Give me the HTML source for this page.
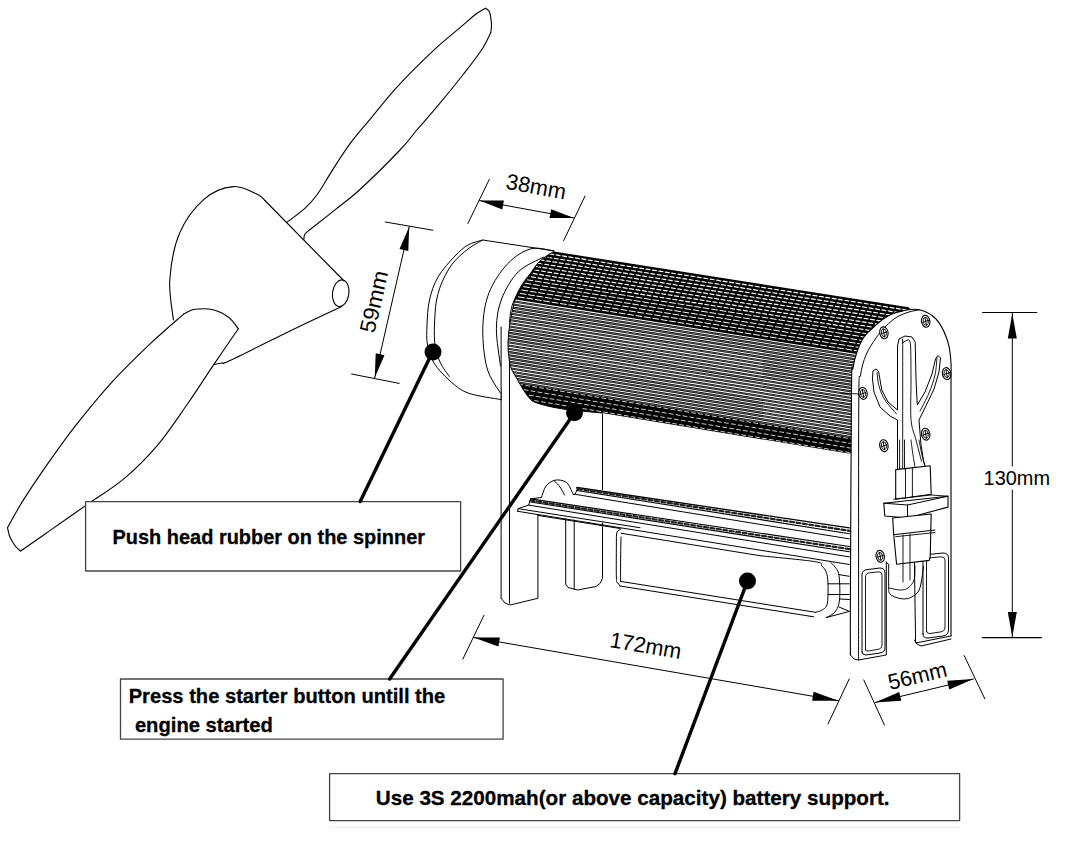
<!DOCTYPE html><html><head><meta charset="utf-8"><style>html,body{margin:0;padding:0;background:#fff;width:1066px;height:861px;overflow:hidden}</style></head><body><svg width="1066" height="861" viewBox="0 0 1066 861" style="display:block;font-family:'Liberation Sans',sans-serif" stroke-linejoin="round" stroke-linecap="round">
<rect width="1066" height="861" fill="#fff"/>
<path d="M286.8 222.4 C289.9 220.0 300.0 212.8 305.1 208.1 C310.2 203.4 312.7 200.8 317.2 194.5 C321.7 188.2 326.8 179.0 332.3 170.4 C337.8 161.8 344.1 151.7 350.4 143.2 C356.7 134.7 362.2 128.7 370.0 119.3 C377.8 109.9 386.4 98.5 397.2 86.8 C408.0 75.1 424.3 59.0 434.9 49.1 C445.5 39.2 453.8 33.0 460.6 27.2 C467.4 21.4 471.6 17.4 475.7 14.3 C479.8 11.2 483.9 9.3 485.5 8.3" fill="none" stroke="#000" stroke-width="1.10" />
<path d="M485.5 8.3 C486.0 8.7 487.8 9.6 488.5 10.5 C489.2 11.4 489.5 11.3 490.0 13.6 C490.5 15.9 491.4 21.1 491.5 24.2 C491.6 27.3 490.9 31.1 490.8 32.5" fill="none" stroke="#000" stroke-width="1.10" />
<path d="M490.8 32.5 C489.3 35.4 486.2 42.9 481.7 49.8 C477.2 56.7 470.9 64.7 463.6 74.0 C456.3 83.3 445.7 96.4 437.9 105.7 C430.1 115.0 423.1 122.6 416.8 130.0 C410.5 137.4 409.6 140.0 400.0 150.0 C390.4 160.0 370.2 180.1 359.4 190.0 C348.6 199.9 343.2 203.3 335.3 209.6 C327.4 215.9 317.1 223.9 312.0 228.0 C306.9 232.1 306.4 232.1 305.0 234.0 C303.6 235.9 304.1 238.6 303.9 239.5" fill="none" stroke="#000" stroke-width="1.10" />
<path d="M173.4 320.0 C172.8 313.3 168.8 294.2 169.8 279.8 C170.8 265.4 173.8 246.8 179.5 233.4 C185.2 220.0 195.0 207.1 203.9 199.3 C212.8 191.5 224.2 187.4 233.2 186.6 C242.1 185.8 252.3 192.1 257.6 194.4 C262.9 196.7 263.7 199.5 264.9 200.5" fill="none" stroke="#000" stroke-width="1.10" />
<line x1="264.9" y1="200.5" x2="344.1" y2="281.0" stroke="#000" stroke-width="1.10"/>
<ellipse cx="340.7" cy="293.2" rx="8.2" ry="13.4" fill="none" stroke="#000" stroke-width="1.10" transform="rotate(8 340.7 293.2)"/>
<path d="M341.7 306.6 C333.1 310.7 308.5 322.1 290.0 331.0 C271.5 339.9 242.0 354.9 230.7 360.2 C219.4 365.5 224.8 362.3 222.0 363.0 C219.2 363.7 215.2 364.2 213.9 364.4" fill="none" stroke="#000" stroke-width="1.10" />
<path d="M183.9 313.8 C178.3 318.8 162.0 332.6 150.1 343.8 C138.2 355.1 125.1 367.6 112.6 381.3 C100.1 395.1 86.3 411.9 75.0 426.3 C63.7 440.7 53.8 455.1 45.0 467.6 C36.2 480.1 28.8 491.4 22.5 501.4 C16.2 511.4 10.0 523.3 7.5 527.7" fill="none" stroke="#000" stroke-width="1.10" />
<path d="M7.5 527.7 C7.8 529.1 8.6 533.5 9.5 536.0 C10.4 538.5 11.8 540.7 13.1 542.7 C14.3 544.7 15.8 546.6 17.0 548.0 C18.2 549.4 20.0 550.5 20.6 551.0" fill="none" stroke="#000" stroke-width="1.10" />
<path d="M20.6 551.0 C25.3 547.7 37.9 539.0 48.8 531.4 C59.7 523.8 73.8 513.9 86.3 505.1 C98.8 496.4 111.9 488.9 123.8 478.9 C135.7 468.9 147.0 457.6 157.6 445.1 C168.2 432.6 178.2 417.2 187.6 403.8 C197.0 390.4 205.4 376.9 213.9 364.4 C222.4 351.9 234.2 334.7 238.3 328.8" fill="none" stroke="#000" stroke-width="1.10" />
<path d="M183.9 313.8 C185.8 313.1 190.0 309.9 195.0 309.3 C200.0 308.7 208.2 308.6 213.9 310.0 C219.6 311.4 224.8 314.4 228.9 317.5 C233.0 320.6 236.7 326.9 238.3 328.8" fill="none" stroke="#000" stroke-width="1.10" />
<line x1="385.3" y1="222.0" x2="432.8" y2="230.2" stroke="#000" stroke-width="1.00"/>
<line x1="351.6" y1="374.0" x2="399.2" y2="383.4" stroke="#000" stroke-width="1.00"/>
<line x1="409.2" y1="226.7" x2="374.8" y2="377.6" stroke="#000" stroke-width="1.00"/>
<path d="M409.2 226.7 L399.5 249.1 L408.3 251.1 Z" fill="#000"/>
<path d="M374.8 377.6 L384.5 355.2 L375.7 353.2 Z" fill="#000"/>
<text x="0" y="0" transform="translate(373.6 301.6) rotate(-77.2)" text-anchor="middle" dy="7.9" font-size="22.0" textLength="63.0" lengthAdjust="spacingAndGlyphs">59mm</text>
<line x1="489.3" y1="179.4" x2="467.9" y2="223.5" stroke="#000" stroke-width="1.00"/>
<line x1="585.0" y1="196.1" x2="563.7" y2="240.6" stroke="#000" stroke-width="1.00"/>
<line x1="479.5" y1="200.6" x2="574.0" y2="218.0" stroke="#000" stroke-width="1.00"/>
<path d="M479.5 200.6 L502.3 209.4 L503.9 200.5 Z" fill="#000"/>
<path d="M574.0 218.0 L551.2 209.2 L549.6 218.1 Z" fill="#000"/>
<text x="0" y="0" transform="translate(536.2 186.3) rotate(10.4)" text-anchor="middle" dy="7.9" font-size="22.0" textLength="60.5" lengthAdjust="spacingAndGlyphs">38mm</text>
<line x1="982.6" y1="312.5" x2="1036.7" y2="312.5" stroke="#000" stroke-width="1.20"/>
<line x1="982.3" y1="637.6" x2="1041.5" y2="637.6" stroke="#000" stroke-width="1.20"/>
<line x1="1012.3" y1="313.0" x2="1012.3" y2="466.0" stroke="#000" stroke-width="1.00"/>
<line x1="1012.3" y1="490.0" x2="1012.3" y2="637.0" stroke="#000" stroke-width="1.00"/>
<path d="M1012.3 313.4 L1007.8 338.4 L1016.8 338.4 Z" fill="#000"/>
<path d="M1012.3 637.0 L1016.8 612.0 L1007.8 612.0 Z" fill="#000"/>
<text x="0" y="0" transform="translate(1016.8 477.8) rotate(0.0)" text-anchor="middle" dy="7.6" font-size="21.0" textLength="66.5" lengthAdjust="spacingAndGlyphs">130mm</text>
<line x1="484.0" y1="615.2" x2="462.9" y2="659.0" stroke="#000" stroke-width="1.00"/>
<line x1="849.2" y1="679.0" x2="828.0" y2="724.0" stroke="#000" stroke-width="1.00"/>
<line x1="473.5" y1="637.5" x2="838.5" y2="700.7" stroke="#000" stroke-width="1.00"/>
<path d="M473.5 637.5 L498.4 646.4 L499.9 637.5 Z" fill="#000"/>
<path d="M838.5 700.7 L813.6 691.8 L812.1 700.7 Z" fill="#000"/>
<text x="0" y="0" transform="translate(645.8 645.2) rotate(9.7)" text-anchor="middle" dy="7.9" font-size="22.0" textLength="72.0" lengthAdjust="spacingAndGlyphs">172mm</text>
<line x1="863.8" y1="680.0" x2="884.4" y2="725.0" stroke="#000" stroke-width="1.00"/>
<line x1="964.2" y1="655.6" x2="984.8" y2="698.8" stroke="#000" stroke-width="1.00"/>
<line x1="875.0" y1="702.5" x2="973.5" y2="679.0" stroke="#000" stroke-width="1.00"/>
<path d="M875.0 702.5 L901.3 700.8 L899.2 692.1 Z" fill="#000"/>
<path d="M973.5 679.0 L947.2 680.7 L949.3 689.4 Z" fill="#000"/>
<text x="0" y="0" transform="translate(917.3 675.3) rotate(-13.4)" text-anchor="middle" dy="7.9" font-size="22.0" textLength="60.0" lengthAdjust="spacingAndGlyphs">56mm</text>
<path d="M616.4 540.0 C616.5 538.7 616.2 533.8 617.0 532.0 C617.8 530.2 620.3 529.6 621.0 529.1" fill="none" stroke="#000" stroke-width="1.00" />
<line x1="621.4" y1="533.3" x2="760.0" y2="555.7" stroke="#000" stroke-width="1.00" />
<path d="M760.0 555.7 C769.1 556.7 804.3 559.9 814.6 561.6 C824.9 563.3 819.9 563.5 822.0 566.0 C824.1 568.5 826.5 570.5 827.4 576.7 C828.3 582.9 828.3 597.5 827.4 603.0 C826.5 608.5 824.0 608.5 822.0 610.0 C820.0 611.5 816.6 611.9 815.5 612.3" fill="none" stroke="#000" stroke-width="1.00" />
<line x1="815.5" y1="612.3" x2="620.6" y2="581.4" stroke="#000" stroke-width="1.00" />
<line x1="813.7" y1="616.8" x2="620.0" y2="586.0" stroke="#000" stroke-width="1.00" />
<path d="M616.4 540.0 C616.4 546.3 616.1 570.8 616.4 578.0 C616.7 585.2 617.4 581.7 618.0 583.0 C618.6 584.3 619.7 585.5 620.0 586.0" fill="none" stroke="#000" stroke-width="1.00" />
<path d="M621.0 537.0 C620.9 540.8 620.7 552.6 620.6 560.0 C620.5 567.4 620.6 577.8 620.6 581.4" fill="none" stroke="#000" stroke-width="1.00" />
<path d="M830.8 562.7 C831.5 563.4 833.6 564.9 835.0 567.0 C836.4 569.1 838.2 570.0 839.0 575.5 C839.8 581.0 840.2 593.9 839.5 600.0 C838.8 606.1 837.2 609.1 835.0 612.0 C832.8 614.9 827.7 616.7 826.2 617.6" fill="none" stroke="#000" stroke-width="1.00" />
<line x1="828.0" y1="583.8" x2="849.3" y2="583.8" stroke="#000" stroke-width="1.00" />
<line x1="828.0" y1="594.5" x2="849.3" y2="594.5" stroke="#000" stroke-width="1.00" />
<line x1="839.0" y1="574.6" x2="849.3" y2="576.3" stroke="#000" stroke-width="1.00" />
<line x1="839.0" y1="607.0" x2="849.3" y2="611.4" stroke="#000" stroke-width="1.00" />
<line x1="826.2" y1="617.6" x2="849.3" y2="611.4" stroke="#000" stroke-width="1.00" />
<line x1="840.0" y1="599.0" x2="849.3" y2="599.5" stroke="#000" stroke-width="1.00" />
<line x1="577.0" y1="487.5" x2="849.4" y2="527.9" stroke="#000" stroke-width="1.30" />
<line x1="577.0" y1="490.5" x2="849.4" y2="533.7" stroke="#000" stroke-width="1.10" />
<line x1="578.0" y1="489.0" x2="849.4" y2="530.8" stroke="#222" stroke-width="2.20" stroke-dasharray="4 2.5"/>
<line x1="575.0" y1="494.3" x2="849.4" y2="538.9" stroke="#000" stroke-width="1.00" />
<line x1="530.6" y1="498.9" x2="849.4" y2="546.5" stroke="#000" stroke-width="1.20" />
<line x1="530.6" y1="502.0" x2="849.4" y2="551.7" stroke="#000" stroke-width="1.10" />
<line x1="530.6" y1="500.5" x2="849.4" y2="549.1" stroke="#222" stroke-width="2.20" stroke-dasharray="4 2.5"/>
<line x1="528.6" y1="505.1" x2="849.4" y2="556.9" stroke="#000" stroke-width="1.00" />
<line x1="518.3" y1="508.7" x2="640.0" y2="527.7" stroke="#000" stroke-width="1.00" />
<line x1="517.7" y1="511.3" x2="849.4" y2="564.5" stroke="#000" stroke-width="1.00" />
<path d="M517.7 511.3 L517.9 508.7 L528.6 505.1 L530.6 498.9 L541.0 497.5" fill="none" stroke="#000" stroke-width="1.00" />
<path d="M573.3 494.5 L575.0 494.3 L577.0 490.0 L577.0 487.5" fill="none" stroke="#000" stroke-width="1.00" />
<path d="M541.5 497.5 C542.2 495.6 543.9 488.8 546.0 486.0 C548.1 483.2 551.3 481.4 554.0 480.5 C556.7 479.6 559.7 479.9 562.0 480.5 C564.3 481.1 566.1 481.7 568.0 484.0 C569.9 486.3 572.4 492.8 573.3 494.5" fill="none" stroke="#000" stroke-width="1.00" />
<path d="M554.5 481.0 C555.4 482.0 558.3 484.7 560.0 487.0 C561.7 489.3 563.8 493.7 564.5 495.0" fill="none" stroke="#000" stroke-width="1.00" />
<line x1="537.9" y1="515.4" x2="620.0" y2="528.5" stroke="#000" stroke-width="1.00" />
<path d="M565.7 519.0 L565.7 584.0 L568.0 587.5 L577.5 590.0 L596.0 586.5 L600.5 583.0 L602.5 578.0 L602.5 523.0" fill="none" stroke="#000" stroke-width="1.00" />
<line x1="574.2" y1="520.0" x2="574.2" y2="589.0" stroke="#000" stroke-width="1.00"/>
<line x1="602.5" y1="414.0" x2="602.5" y2="489.4" stroke="#000" stroke-width="1.00"/>
<line x1="501.1" y1="327.0" x2="501.1" y2="598.3" stroke="#000" stroke-width="1.00"/>
<line x1="509.5" y1="320.0" x2="509.5" y2="603.0" stroke="#000" stroke-width="1.00"/>
<path d="M501.1 598.3 L505.0 603.0 L510.0 605.0 L537.9 598.3 L537.9 515.6" fill="none" stroke="#000" stroke-width="1.00" />
<clipPath id="cyl"><path d="M553.7 251.5 C551.4 253.1 544.1 256.9 540.0 261.0 C535.9 265.1 533.0 269.5 528.8 276.0 C524.6 282.5 518.4 289.8 515.0 300.0 C511.6 310.2 509.1 326.7 508.3 337.4 C507.5 348.1 508.6 357.2 510.0 364.0 C511.4 370.8 513.5 372.6 516.5 378.0 C519.5 383.4 524.6 392.3 528.0 396.5 C531.4 400.7 531.2 400.9 537.0 403.0 C542.8 405.1 552.2 407.3 563.0 409.0 C573.8 410.7 595.5 412.3 602.0 413.0 L848.3 453.6 L860 451.6 L912 311 L908.6 307.2 Z"/></clipPath>
<g clip-path="url(#cyl)">
<rect x="500" y="240" width="440" height="230" fill="#000"/>
<line x1="500.0" y1="246.1" x2="935.0" y2="314.5" stroke="#fff" stroke-width="1.20" stroke-dasharray="4 2.5" stroke-dashoffset="1.7"/>
<line x1="500.0" y1="249.8" x2="935.0" y2="318.3" stroke="#fff" stroke-width="1.20" stroke-dasharray="4 2.5" stroke-dashoffset="3.4"/>
<line x1="500.0" y1="253.5" x2="935.0" y2="322.0" stroke="#fff" stroke-width="1.20" stroke-dasharray="4 2.5" stroke-dashoffset="5.1"/>
<line x1="500.0" y1="257.2" x2="935.0" y2="325.8" stroke="#fff" stroke-width="1.20" stroke-dasharray="4 2.5" stroke-dashoffset="6.8"/>
<line x1="500.0" y1="260.8" x2="935.0" y2="329.5" stroke="#fff" stroke-width="1.20" stroke-dasharray="4 2.5" stroke-dashoffset="8.5"/>
<line x1="500.0" y1="264.5" x2="935.0" y2="333.3" stroke="#fff" stroke-width="1.20" stroke-dasharray="4 2.5" stroke-dashoffset="10.2"/>
<line x1="500.0" y1="268.2" x2="935.0" y2="337.0" stroke="#fff" stroke-width="1.20" stroke-dasharray="4 2.5" stroke-dashoffset="11.9"/>
<line x1="500.0" y1="271.9" x2="935.0" y2="340.8" stroke="#fff" stroke-width="1.20" stroke-dasharray="4 2.5" stroke-dashoffset="13.6"/>
<line x1="500.0" y1="275.5" x2="935.0" y2="344.6" stroke="#fff" stroke-width="1.00" stroke-dasharray="6 2.5" stroke-dashoffset="15.3"/>
<line x1="500.0" y1="279.2" x2="935.0" y2="348.3" stroke="#fff" stroke-width="1.00" stroke-dasharray="6 2.5" stroke-dashoffset="17.0"/>
<line x1="500.0" y1="282.9" x2="935.0" y2="352.1" stroke="#fff" stroke-width="1.00" stroke-dasharray="6 2.5" stroke-dashoffset="18.7"/>
<line x1="500.0" y1="286.5" x2="935.0" y2="355.8" stroke="#fff" stroke-width="1.00" stroke-dasharray="6 2.5" stroke-dashoffset="20.4"/>
<line x1="500.0" y1="290.2" x2="935.0" y2="359.6" stroke="#fff" stroke-width="1.00" stroke-dasharray="6 2.5" stroke-dashoffset="22.1"/>
<line x1="500.0" y1="293.9" x2="935.0" y2="363.3" stroke="#fff" stroke-width="1.00" stroke-dasharray="6 2.5" stroke-dashoffset="23.8"/>
<line x1="500.0" y1="297.6" x2="935.0" y2="367.1" stroke="#fff" stroke-width="1.10" />
<line x1="500.0" y1="299.2" x2="935.0" y2="368.8" stroke="#666" stroke-width="0.90" />
<line x1="500.0" y1="300.8" x2="935.0" y2="370.4" stroke="#fff" stroke-width="1.10" />
<line x1="500.0" y1="302.4" x2="935.0" y2="372.0" stroke="#666" stroke-width="0.90" />
<line x1="500.0" y1="304.0" x2="935.0" y2="373.7" stroke="#fff" stroke-width="1.10" />
<line x1="500.0" y1="305.6" x2="935.0" y2="375.3" stroke="#666" stroke-width="0.90" />
<line x1="500.0" y1="307.2" x2="935.0" y2="377.0" stroke="#fff" stroke-width="1.10" />
<line x1="500.0" y1="308.8" x2="935.0" y2="378.6" stroke="#666" stroke-width="0.90" />
<line x1="500.0" y1="310.4" x2="935.0" y2="380.3" stroke="#fff" stroke-width="1.10" />
<line x1="500.0" y1="312.0" x2="935.0" y2="381.9" stroke="#666" stroke-width="0.90" />
<line x1="500.0" y1="313.6" x2="935.0" y2="383.5" stroke="#fff" stroke-width="1.10" />
<line x1="500.0" y1="315.3" x2="935.0" y2="385.2" stroke="#666" stroke-width="0.90" />
<line x1="500.0" y1="316.9" x2="935.0" y2="386.8" stroke="#fff" stroke-width="1.10" />
<line x1="500.0" y1="318.5" x2="935.0" y2="388.5" stroke="#666" stroke-width="0.90" />
<line x1="500.0" y1="320.1" x2="935.0" y2="390.1" stroke="#fff" stroke-width="1.10" />
<line x1="500.0" y1="321.7" x2="935.0" y2="391.8" stroke="#666" stroke-width="0.90" />
<line x1="500.0" y1="323.3" x2="935.0" y2="393.4" stroke="#fff" stroke-width="1.10" />
<line x1="500.0" y1="324.9" x2="935.0" y2="395.1" stroke="#666" stroke-width="0.90" />
<line x1="500.0" y1="326.5" x2="935.0" y2="396.7" stroke="#fff" stroke-width="1.10" />
<line x1="500.0" y1="328.1" x2="935.0" y2="398.3" stroke="#666" stroke-width="0.90" />
<line x1="500.0" y1="329.7" x2="935.0" y2="400.0" stroke="#fff" stroke-width="1.10" />
<line x1="500.0" y1="331.3" x2="935.0" y2="401.6" stroke="#666" stroke-width="0.90" />
<line x1="500.0" y1="332.9" x2="935.0" y2="403.3" stroke="#fff" stroke-width="1.10" />
<line x1="500.0" y1="334.5" x2="935.0" y2="404.9" stroke="#666" stroke-width="0.90" />
<line x1="500.0" y1="336.2" x2="935.0" y2="406.6" stroke="#fff" stroke-width="1.10" />
<line x1="500.0" y1="337.8" x2="935.0" y2="408.2" stroke="#666" stroke-width="0.90" />
<line x1="500.0" y1="339.4" x2="935.0" y2="409.9" stroke="#fff" stroke-width="1.10" />
<line x1="500.0" y1="341.0" x2="935.0" y2="411.5" stroke="#666" stroke-width="0.90" />
<line x1="500.0" y1="342.6" x2="935.0" y2="413.1" stroke="#fff" stroke-width="1.10" />
<line x1="500.0" y1="344.2" x2="935.0" y2="414.8" stroke="#666" stroke-width="0.90" />
<line x1="500.0" y1="345.8" x2="935.0" y2="416.4" stroke="#fff" stroke-width="1.10" />
<line x1="500.0" y1="347.4" x2="935.0" y2="418.1" stroke="#666" stroke-width="0.90" />
<line x1="500.0" y1="349.0" x2="935.0" y2="419.7" stroke="#fff" stroke-width="1.10" />
<line x1="500.0" y1="350.6" x2="935.0" y2="421.4" stroke="#666" stroke-width="0.90" />
<line x1="500.0" y1="352.2" x2="935.0" y2="423.0" stroke="#fff" stroke-width="1.10" />
<line x1="500.0" y1="353.8" x2="935.0" y2="424.7" stroke="#666" stroke-width="0.90" />
<line x1="500.0" y1="355.4" x2="935.0" y2="426.3" stroke="#fff" stroke-width="1.10" />
<line x1="500.0" y1="357.1" x2="935.0" y2="427.9" stroke="#666" stroke-width="0.90" />
<line x1="500.0" y1="358.7" x2="935.0" y2="429.6" stroke="#fff" stroke-width="1.10" />
<line x1="500.0" y1="360.3" x2="935.0" y2="431.2" stroke="#666" stroke-width="0.90" />
<line x1="500.0" y1="361.9" x2="935.0" y2="432.9" stroke="#fff" stroke-width="1.10" />
<line x1="500.0" y1="363.5" x2="935.0" y2="434.5" stroke="#666" stroke-width="0.90" />
<line x1="500.0" y1="365.1" x2="935.0" y2="436.2" stroke="#fff" stroke-width="1.10" />
<line x1="500.0" y1="366.7" x2="935.0" y2="437.8" stroke="#666" stroke-width="0.90" />
<line x1="500.0" y1="368.3" x2="935.0" y2="439.4" stroke="#fff" stroke-width="1.10" />
<line x1="500.0" y1="369.9" x2="935.0" y2="441.1" stroke="#666" stroke-width="0.90" />
<line x1="500.0" y1="371.5" x2="935.0" y2="442.7" stroke="#fff" stroke-width="1.10" />
<line x1="500.0" y1="373.1" x2="935.0" y2="444.4" stroke="#666" stroke-width="0.90" />
<line x1="500.0" y1="374.7" x2="935.0" y2="446.0" stroke="#fff" stroke-width="1.10" />
<line x1="500.0" y1="376.3" x2="935.0" y2="447.7" stroke="#666" stroke-width="0.90" />
<line x1="500.0" y1="378.0" x2="935.0" y2="449.3" stroke="#fff" stroke-width="1.10" />
<line x1="500.0" y1="379.6" x2="935.0" y2="451.0" stroke="#666" stroke-width="0.90" />
<line x1="500.0" y1="381.2" x2="935.0" y2="452.6" stroke="#fff" stroke-width="0.80" stroke-dasharray="4 3" stroke-dashoffset="113.9"/>
<line x1="500.0" y1="385.8" x2="935.0" y2="457.3" stroke="#fff" stroke-width="0.80" stroke-dasharray="4 3" stroke-dashoffset="115.6"/>
<line x1="500.0" y1="390.4" x2="935.0" y2="462.0" stroke="#fff" stroke-width="0.80" stroke-dasharray="4 3" stroke-dashoffset="117.3"/>
<line x1="500.0" y1="394.9" x2="935.0" y2="466.7" stroke="#fff" stroke-width="0.80" stroke-dasharray="4 3" stroke-dashoffset="119.0"/>
</g>
<path d="M553.7 251.5 C551.4 253.1 544.1 256.9 540.0 261.0 C535.9 265.1 533.0 269.5 528.8 276.0 C524.6 282.5 518.4 289.8 515.0 300.0 C511.6 310.2 509.1 326.7 508.3 337.4 C507.5 348.1 508.6 357.2 510.0 364.0 C511.4 370.8 513.5 372.6 516.5 378.0 C519.5 383.4 524.6 392.3 528.0 396.5 C531.4 400.7 531.2 400.9 537.0 403.0 C542.8 405.1 552.2 407.3 563.0 409.0 C573.8 410.7 595.5 412.3 602.0 413.0" fill="none" stroke="#000" stroke-width="1.00" />
<path d="M553.9 250.9 L482.8 240.0 C480.3 240.8 472.6 242.3 468.0 245.0 C463.4 247.7 460.0 250.7 455.0 256.0 C450.0 261.3 442.2 269.7 438.0 277.0 C433.8 284.3 431.3 292.0 429.5 300.0 C427.7 308.0 427.3 317.5 427.0 325.0 C426.7 332.5 426.3 338.7 427.5 345.0 C428.7 351.3 430.4 357.2 434.0 363.0 C437.6 368.8 443.3 375.0 449.0 380.0 C454.7 385.0 459.4 389.8 468.0 393.0 C476.6 396.2 495.1 398.4 500.5 399.5 L508 330 L520 265 Z" fill="#fff" stroke="none"/>
<path d="M553.9 250.9 L482.8 240.0 C480.3 240.8 472.6 242.3 468.0 245.0 C463.4 247.7 460.0 250.7 455.0 256.0 C450.0 261.3 442.2 269.7 438.0 277.0 C433.8 284.3 431.3 292.0 429.5 300.0 C427.7 308.0 427.3 317.5 427.0 325.0 C426.7 332.5 426.3 338.7 427.5 345.0 C428.7 351.3 430.4 357.2 434.0 363.0 C437.6 368.8 443.3 375.0 449.0 380.0 C454.7 385.0 459.4 389.8 468.0 393.0 C476.6 396.2 495.1 398.4 500.5 399.5" fill="none" stroke="#000" stroke-width="1.00" />
<path d="M482.8 240.0 C480.3 241.5 473.0 245.2 468.0 249.0 C463.0 252.8 457.2 257.8 453.0 263.0 C448.8 268.2 445.7 274.2 443.0 280.0 C440.3 285.8 438.4 291.7 437.0 298.0 C435.6 304.3 435.2 310.5 434.8 318.0 C434.4 325.5 433.9 335.7 434.8 343.0 C435.7 350.3 437.6 356.4 440.0 362.0 C442.4 367.6 447.8 374.0 449.3 376.4" fill="none" stroke="#000" stroke-width="1.00" />
<path d="M553.9 250.9 C550.1 250.6 538.6 246.7 530.9 248.8 C523.2 250.9 514.9 256.2 507.9 263.5 C500.9 270.8 493.2 282.0 489.0 292.8 C484.8 303.6 483.1 315.8 482.8 328.3 C482.5 340.8 484.1 357.2 487.0 368.0 C489.9 378.8 498.2 389.0 500.5 393.2" fill="none" stroke="#000" stroke-width="1.00" />
<path d="M543.4 257.2 C539.2 259.6 525.3 264.8 518.3 271.8 C511.3 278.8 505.2 289.6 501.6 299.0 C498.0 308.4 496.6 317.1 496.4 328.3 C496.2 339.5 499.8 359.7 500.5 366.0" fill="none" stroke="#000" stroke-width="1.00" />
<path d="M551.0 256.0 C547.0 259.7 533.0 270.2 526.7 278.0 C520.4 285.8 515.9 295.7 513.0 303.0 C510.1 310.3 510.1 318.8 509.5 322.0" fill="none" stroke="#000" stroke-width="1.00" />
<line x1="501.1" y1="327.0" x2="501.1" y2="400.0" stroke="#000" stroke-width="1.00"/>
<path d="M850.4 655.0 C850.4 645.8 850.2 644.2 850.4 600.0 C850.6 555.8 851.1 428.7 851.5 390.0 C851.9 351.3 852.1 374.2 853.0 368.0 C853.9 361.8 854.9 357.9 856.7 352.7 C858.5 347.5 860.9 341.5 864.0 337.0 C867.1 332.5 871.5 329.0 875.5 325.5 C879.5 322.0 883.5 318.4 888.0 316.0 C892.5 313.6 897.5 311.9 902.7 310.9 C907.9 309.9 913.9 308.4 919.4 309.8 C924.9 311.2 931.5 314.3 936.0 319.0 C940.5 323.7 944.1 331.3 946.6 338.0 C949.1 344.7 950.0 348.7 950.7 359.0 C951.4 369.3 951.0 353.8 951.0 400.0 C951.0 446.2 951.0 596.7 951.0 636.0 L915.6 643 L914.4 562 L886.3 562 L886.3 655 L858.3 660 Z" fill="#fff" stroke="none"/>
<path d="M850.4 655.0 C850.4 645.8 850.2 644.2 850.4 600.0 C850.6 555.8 851.1 428.7 851.5 390.0 C851.9 351.3 852.1 374.2 853.0 368.0 C853.9 361.8 854.9 357.9 856.7 352.7 C858.5 347.5 860.9 341.5 864.0 337.0 C867.1 332.5 871.5 329.0 875.5 325.5 C879.5 322.0 883.5 318.4 888.0 316.0 C892.5 313.6 897.5 311.9 902.7 310.9 C907.9 309.9 913.9 308.4 919.4 309.8 C924.9 311.2 931.5 314.3 936.0 319.0 C940.5 323.7 944.1 331.3 946.6 338.0 C949.1 344.7 950.0 348.7 950.7 359.0 C951.4 369.3 951.0 353.8 951.0 400.0 C951.0 446.2 951.0 596.7 951.0 636.0" fill="none" stroke="#000" stroke-width="1.10" />
<path d="M858.5 660.0 C858.5 650.0 858.6 643.3 858.6 600.0 C858.6 556.7 858.5 437.5 858.8 400.0 C859.1 362.5 859.3 382.5 860.5 375.0 C861.7 367.5 863.4 361.2 866.0 355.0 C868.6 348.8 872.7 342.8 876.0 338.0 C879.3 333.2 882.5 329.5 886.0 326.0 C889.5 322.5 893.2 319.3 897.0 317.0 C900.8 314.7 905.3 313.2 909.0 312.0 C912.7 310.8 917.7 310.2 919.4 309.8" fill="none" stroke="#000" stroke-width="1.00" />
<path d="M850.4 655.0 L854.0 659.0 L858.5 660.0 L886.3 655.0 L886.3 562.0" fill="none" stroke="#000" stroke-width="1.00" />
<path d="M951.0 636.0 L915.6 643.0 L914.4 562.0" fill="none" stroke="#000" stroke-width="1.00" />
<path d="M914.4 640.0 L917.0 644.0 L921.0 646.0 L951.0 639.0" fill="none" stroke="#000" stroke-width="1.00" />
<path d="M862 652 L862 575 Q862 569.8 868 569.5 L880 568 Q885 568 885 573 L885 648 Q885 652 880 653 L866 655 Q862 655 862 652 Z" fill="none" stroke="#000" stroke-width="1"/>
<path d="M865.5 650 L865.5 577 Q865.5 573 870 572.8 L879 571.8 Q882 571.8 882 575 L882 645 Q882 649 877 649.5 L869 651 Q865.5 651.5 865.5 650 Z" fill="none" stroke="#000" stroke-width="0.9"/>
<path d="M923 634 L923 560 Q923 555 928 554.5 L943 553 Q948.5 553 948.5 558 L948.5 630 Q948.5 635 943 636 L928 638 Q923 638.5 923 634 Z" fill="none" stroke="#000" stroke-width="1"/>
<path d="M926.5 631 L926.5 562 Q926.5 558 930 557.8 L941 556.8 Q945 556.8 945 560 L945 627 Q945 631.5 940 632 L930 633.5 Q926.5 634 926.5 631 Z" fill="none" stroke="#000" stroke-width="0.9"/>
<g transform="translate(925.7 321.3) rotate(-10)"><ellipse rx="4.2" ry="6" fill="#fff" stroke="#000" stroke-width="1.1"/><ellipse rx="2.6" ry="4" fill="none" stroke="#000" stroke-width="0.8"/><line x1="-3" y1="0.5" x2="3" y2="-0.5" stroke="#000" stroke-width="0.9"/><line x1="0" y1="-4" x2="0" y2="4" stroke="#000" stroke-width="0.9"/></g>
<g transform="translate(883.9 332.8) rotate(-10)"><ellipse rx="4.2" ry="6" fill="#fff" stroke="#000" stroke-width="1.1"/><ellipse rx="2.6" ry="4" fill="none" stroke="#000" stroke-width="0.8"/><line x1="-3" y1="0.5" x2="3" y2="-0.5" stroke="#000" stroke-width="0.9"/><line x1="0" y1="-4" x2="0" y2="4" stroke="#000" stroke-width="0.9"/></g>
<g transform="translate(946.6 373.6) rotate(-10)"><ellipse rx="4.2" ry="6" fill="#fff" stroke="#000" stroke-width="1.1"/><ellipse rx="2.6" ry="4" fill="none" stroke="#000" stroke-width="0.8"/><line x1="-3" y1="0.5" x2="3" y2="-0.5" stroke="#000" stroke-width="0.9"/><line x1="0" y1="-4" x2="0" y2="4" stroke="#000" stroke-width="0.9"/></g>
<g transform="translate(863.0 393.4) rotate(-10)"><ellipse rx="4.2" ry="6" fill="#fff" stroke="#000" stroke-width="1.1"/><ellipse rx="2.6" ry="4" fill="none" stroke="#000" stroke-width="0.8"/><line x1="-3" y1="0.5" x2="3" y2="-0.5" stroke="#000" stroke-width="0.9"/><line x1="0" y1="-4" x2="0" y2="4" stroke="#000" stroke-width="0.9"/></g>
<g transform="translate(925.7 434.2) rotate(-10)"><ellipse rx="4.2" ry="6" fill="#fff" stroke="#000" stroke-width="1.1"/><ellipse rx="2.6" ry="4" fill="none" stroke="#000" stroke-width="0.8"/><line x1="-3" y1="0.5" x2="3" y2="-0.5" stroke="#000" stroke-width="0.9"/><line x1="0" y1="-4" x2="0" y2="4" stroke="#000" stroke-width="0.9"/></g>
<g transform="translate(883.9 445.7) rotate(-10)"><ellipse rx="4.2" ry="6" fill="#fff" stroke="#000" stroke-width="1.1"/><ellipse rx="2.6" ry="4" fill="none" stroke="#000" stroke-width="0.8"/><line x1="-3" y1="0.5" x2="3" y2="-0.5" stroke="#000" stroke-width="0.9"/><line x1="0" y1="-4" x2="0" y2="4" stroke="#000" stroke-width="0.9"/></g>
<g transform="translate(880.2 556.3) rotate(-10)"><ellipse rx="4.2" ry="6" fill="#fff" stroke="#000" stroke-width="1.1"/><ellipse rx="2.6" ry="4" fill="none" stroke="#000" stroke-width="0.8"/><line x1="-3" y1="0.5" x2="3" y2="-0.5" stroke="#000" stroke-width="0.9"/><line x1="0" y1="-4" x2="0" y2="4" stroke="#000" stroke-width="0.9"/></g>
<line x1="842.0" y1="393.0" x2="859.0" y2="394.0" stroke="#000" stroke-width="0.90"/>
<path d="M897.5 470.0 L897.5 420.0 L890.0 416.0 L880.0 407.0 L874.0 392.0 L872.4 378.0 L873.0 371.0 L876.0 369.0 L878.5 371.0 L881.8 390.0 L888.0 402.0 L897.5 410.0 L897.5 346.0 L899.0 339.0 L905.0 336.0 L912.0 337.0 L915.2 342.0 L916.0 380.0 L917.3 405.0 L925.0 392.0 L932.0 374.0 L935.5 359.0 L938.0 355.5 L940.5 358.0 L939.0 372.0 L934.0 389.0 L927.8 402.0 L919.0 420.0 L921.0 445.0 L923.6 461.0 L926.0 470.0" fill="none" stroke="#000" stroke-width="1.00" />
<path d="M902.7 470.0 C902.7 450.0 902.7 371.2 902.7 350.0 C902.8 328.8 902.1 344.7 903.0 343.0 C903.9 341.3 907.2 340.5 908.0 340.0" fill="none" stroke="#000" stroke-width="0.90" />
<path d="M908.0 340.0 C908.4 340.8 910.0 338.3 910.5 345.0 C911.0 351.7 910.9 367.6 911.0 380.0 C911.1 392.4 910.2 409.5 911.0 419.5 C911.8 429.5 914.2 433.0 916.0 440.0 C917.8 447.0 920.6 457.8 921.5 461.3" fill="none" stroke="#000" stroke-width="0.90" />
<path d="M877.0 372.0 C877.3 374.3 877.7 381.3 879.0 386.0 C880.3 390.7 882.1 395.3 885.0 400.0 C887.9 404.7 894.6 411.7 896.5 414.0" fill="none" stroke="#000" stroke-width="0.90" />
<path d="M937.0 358.0 C936.7 360.8 936.3 369.2 935.0 375.0 C933.7 380.8 931.5 387.0 929.0 393.0 C926.5 399.0 921.5 408.0 920.0 411.0" fill="none" stroke="#000" stroke-width="0.90" />
<path d="M895.7 469.6 L930.2 465.7 L931.2 494.3 L895.7 499.2 Z" fill="#fff" stroke="#000" stroke-width="1.1"/>
<line x1="905.5" y1="468.5" x2="905.5" y2="498.0" stroke="#000" stroke-width="0.90"/>
<line x1="912.4" y1="467.7" x2="912.4" y2="497.0" stroke="#000" stroke-width="0.90"/>
<path d="M883.8 503.2 L948 496.2 L948 507.1 L907.5 518 L884.8 516 Z" fill="#fff" stroke="#000" stroke-width="1.1"/>
<path d="M883.8 503.2 L907.5 505.0 L948.0 496.2" fill="none" stroke="#000" stroke-width="1.00" />
<line x1="907.5" y1="505.0" x2="907.5" y2="518.0" stroke="#000" stroke-width="1.00"/>
<path d="M893.7 499.2 L931.0 495.0 L948.0 496.2" fill="none" stroke="#000" stroke-width="0.90" />
<path d="M892.7 518 L931.2 514 L930.2 556.4 L929.2 560.4 L896.6 564.3 L893.7 534.7 Z" fill="#fff" stroke="#000" stroke-width="1.1"/>
<path d="M893.7 534.7 L935.0 530.0" fill="none" stroke="#000" stroke-width="1.00" />
<path d="M895.7 536.7 L935.0 532.5" fill="none" stroke="#000" stroke-width="0.90" />
<line x1="903.0" y1="535.0" x2="903.0" y2="563.0" stroke="#000" stroke-width="0.90"/>
<line x1="910.0" y1="534.0" x2="910.0" y2="562.5" stroke="#000" stroke-width="0.90"/>
<path d="M888.7 564.3 C888.7 567.8 888.5 580.0 888.7 585.0 C888.9 590.0 888.1 591.8 890.0 594.0 C891.9 596.2 896.8 597.8 900.0 598.5 C903.2 599.2 906.5 599.1 909.5 598.0 C912.5 596.9 916.0 594.7 918.0 592.0 C920.0 589.3 920.4 586.3 921.3 582.0 C922.2 577.7 923.0 568.9 923.3 566.3" fill="none" stroke="#000" stroke-width="1.00" />
<path d="M889.0 588.0 C890.8 588.3 896.8 590.0 900.0 590.0 C903.2 590.0 905.7 589.7 908.0 588.0 C910.3 586.3 912.8 583.7 914.0 580.0 C915.2 576.3 914.8 568.3 915.0 566.0" fill="none" stroke="#000" stroke-width="0.90" />
<line x1="903.0" y1="564.0" x2="903.0" y2="582.0" stroke="#000" stroke-width="0.90"/>
<line x1="910.0" y1="563.0" x2="910.0" y2="580.0" stroke="#000" stroke-width="0.90"/>
<path d="M888.0 564.0 L886.3 562.0" fill="none" stroke="#000" stroke-width="0.90" />
<line x1="899.6" y1="440.0" x2="899.6" y2="469.0" stroke="#000" stroke-width="0.90"/>
<line x1="904.5" y1="440.0" x2="904.5" y2="469.0" stroke="#000" stroke-width="0.90"/>
<path d="M911.0 440.0 C911.3 442.5 912.3 450.5 913.0 455.0 C913.7 459.5 914.7 465.0 915.0 467.0" fill="none" stroke="#000" stroke-width="0.90" />
<path d="M919.0 440.0 C919.5 442.5 921.0 450.7 922.0 455.0 C923.0 459.3 924.5 464.2 925.0 466.0" fill="none" stroke="#000" stroke-width="0.90" />
<rect x="85.6" y="501.6" width="375.0" height="69.4" fill="#fff" stroke="#444" stroke-width="1.3"/>
<rect x="120.5" y="679.0" width="382.6" height="60.2" fill="#fff" stroke="#444" stroke-width="1.3"/>
<rect x="329.6" y="773.7" width="630.0" height="46.9" fill="#fff" stroke="#444" stroke-width="1.3"/>
<line x1="330.0" y1="827.4" x2="960.0" y2="827.4" stroke="#eee" stroke-width="1.00"/>
<text x="112.5" y="544.0" font-size="20.8" font-weight="bold" stroke="#000" stroke-width="0.3" textLength="312.5" lengthAdjust="spacingAndGlyphs">Push head rubber on the spinner</text>
<text x="128.7" y="703.0" font-size="20.8" font-weight="bold" stroke="#000" stroke-width="0.3" textLength="316.6" lengthAdjust="spacingAndGlyphs">Press the starter button untill the</text>
<text x="134.9" y="731.8" font-size="20.8" font-weight="bold" stroke="#000" stroke-width="0.3" textLength="138.0" lengthAdjust="spacingAndGlyphs">engine started</text>
<text x="375.8" y="805.3" font-size="20.8" font-weight="bold" stroke="#000" stroke-width="0.3" textLength="513.8" lengthAdjust="spacingAndGlyphs">Use 3S 2200mah(or above capacity) battery support.</text>
<line x1="432.0" y1="353.0" x2="360.2" y2="501.6" stroke="#000" stroke-width="3.40"/>
<circle cx="433" cy="352" r="8.5"/>
<line x1="574.5" y1="412.7" x2="389.6" y2="679.0" stroke="#000" stroke-width="3.40"/>
<circle cx="574.5" cy="412.7" r="8.5"/>
<line x1="747.5" y1="580.9" x2="675.0" y2="773.7" stroke="#000" stroke-width="3.40"/>
<circle cx="747.5" cy="580.9" r="8.5"/>
</svg></body></html>
